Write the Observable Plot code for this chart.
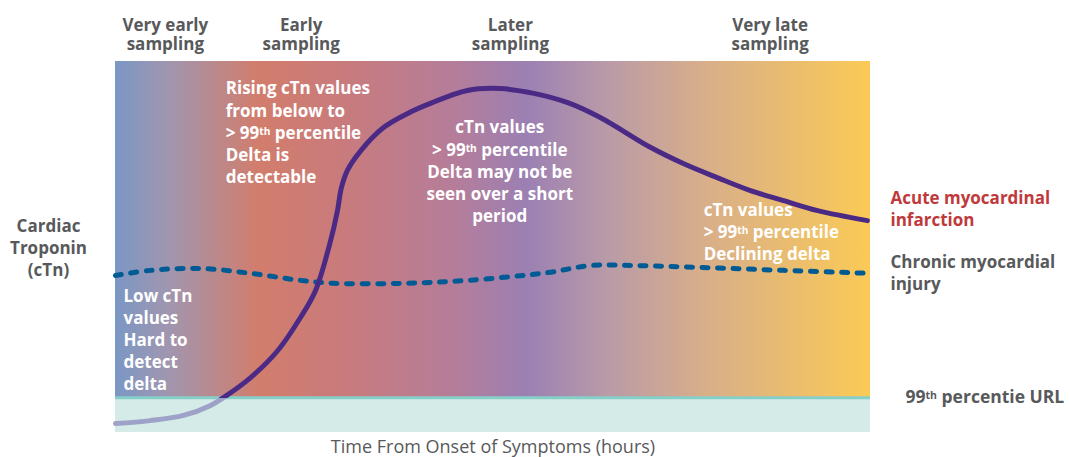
<!DOCTYPE html>
<html>
<head>
<meta charset="utf-8">
<script src="https://cdn.jsdelivr.net/npm/d3@7"></script>
<script src="https://cdn.jsdelivr.net/npm/@observablehq/plot@0.6"></script>
<style>
  body { margin: 0; background: #fff; }
  #chart svg { display: block; }
</style>
</head>
<body>
<div id="chart"></div>
<script>
// 99th percentile upper reference limit, in the same arbitrary cTn units as the curves
const URL_LEVEL = 9.4;

// sampling phases shown across the top
const phaseHours = [6.6, 24.6, 52.3, 86.7];
const phaseLabels = ["Very early\nsampling", "Early\nsampling", "Later\nsampling", "Very late\nsampling"];

// acute myocardial infarction curve
const amiHours = [0, 4.6, 9.0, 12.6, 14.3, 17.9, 21.5, 24.5, 26.5, 28.5, 29.4, 29.9, 30.7, 32.5, 35.5, 38.7, 41.7, 46.6, 51.0, 55.4, 59.9, 64.2, 70.9, 75.2, 79.7, 84.1, 88.5, 93.0, 99.6];
const amiCtn = [2.4, 3.2, 4.6, 7.3, 9.4, 14.8, 22.1, 31.0, 38.3, 51.8, 59.8, 65.8, 70.6, 76.0, 82.2, 86.0, 88.7, 92.2, 92.7, 91.4, 88.9, 84.9, 76.8, 72.5, 68.7, 65.2, 62.5, 59.8, 57.1];

// chronic myocardial injury curve
const chronicHours = [0, 4.6, 11.3, 17.9, 24.5, 28.9, 37.7, 46.6, 57.2, 62.9, 68.6, 77.5, 88.5, 100];
const chronicCtn = [42.3, 43.7, 44.2, 42.9, 41.0, 40.2, 40.2, 41.0, 43.1, 45.0, 45.0, 44.5, 43.7, 42.9];

const noteVeryEarly = "Low cTn\nvalues\nHard to\ndetect\ndelta";
const noteEarly = "Rising cTn values\nfrom below to\n> 99th percentile\nDelta is\ndetectable";
const noteLater = "cTn values\n> 99th percentile\nDelta may not be\nseen over a short\nperiod";
const noteVeryLate = "cTn values\n> 99th percentile\nDeclining delta";

const ami = amiHours.map((h, i) => ({ hours: h, ctn: amiCtn[i] }));
const chronic = chronicHours.map((h, i) => ({ hours: h, ctn: chronicCtn[i] }));

const FONT = "'Open Sans', sans-serif";
const GREY = "#58595b";

const noteStyle = { fill: "white", fontSize: 17, fontWeight: "bold", lineHeight: 1.3, fontFamily: FONT };
const sideStyle = { fontSize: 17, fontWeight: "bold", lineHeight: 1.3 };

const plot = Plot.plot({
  width: 1070,
  height: 457,
  marginLeft: 115,
  marginRight: 200,
  marginTop: 61,
  marginBottom: 25,
  style: { fontFamily: FONT, background: "white" },
  x: { domain: [0, 100], label: null },
  y: { domain: [0, 100], axis: null },
  marks: [
    // phase background and the band under the URL
    Plot.rect([0], { x1: 0, x2: 100, y1: URL_LEVEL, y2: 100, fill: "url(#phaseGradient)" }),
    Plot.rect([0], { x1: 0, x2: 100, y1: 0, y2: URL_LEVEL, fill: "#d4ebe7" }),
    Plot.ruleY([URL_LEVEL], { stroke: "#86cfc9", strokeWidth: 3 }),

    Plot.text([noteVeryEarly], { x: 1.06, y: 25.3, textAnchor: "start", ...noteStyle }),
    Plot.text([noteEarly], { x: 14.6, y: 81.1, textAnchor: "start", ...noteStyle }),
    Plot.text([noteLater], { x: 50.9, y: 70.6, textAnchor: "middle", ...noteStyle }),
    Plot.text([noteVeryLate], { x: 77.9, y: 54.4, textAnchor: "start", ...noteStyle }),

    Plot.line(chronic, {
      x: "hours", y: "ctn", curve: "catmull-rom",
      stroke: "#005b94", strokeWidth: 5, strokeDasharray: "6,9.5"
    }),
    Plot.line(ami, {
      x: "hours", y: "ctn", curve: "catmull-rom",
      stroke: "url(#amiStroke)", strokeWidth: 5
    }),

    Plot.axisX(phaseHours, {
      anchor: "top", tickSize: 0, tickPadding: 12, label: null,
      tickFormat: (d) => phaseLabels[phaseHours.indexOf(d)],
      fontSize: 17, fontWeight: "bold", fill: GREY, lineHeight: 1.1
    }),
    Plot.text(["Time From Onset of Symptoms (hours)"], {
      frameAnchor: "bottom", dy: 20, fontSize: 18, fill: GREY
    }),
    Plot.text(["Cardiac\nTroponin\n(cTn)"], {
      frameAnchor: "left", y: 50, dx: -67, textAnchor: "middle", fill: GREY, ...sideStyle
    }),
    Plot.text(["Acute myocardinal\ninfarction"], {
      x: 100, y: 60.6, dx: 20, textAnchor: "start", fill: "#c0393b", ...sideStyle
    }),
    Plot.text(["Chronic myocardial\ninjury"], {
      x: 100, y: 43.4, dx: 20, textAnchor: "start", fill: GREY, ...sideStyle
    }),
    Plot.text(["99th percentie URL"], {
      x: 100, y: URL_LEVEL, dx: 35, textAnchor: "start",
      fontSize: 17.5, fontWeight: "bold", fill: GREY
    })
  ]
});

// gradients: the phase colours, and the AMI stroke that goes pale below the URL
const urlPx = plot.scale("y").apply(URL_LEVEL);
const defs = d3.select(plot).insert("defs", ":first-child");
const bg = defs.append("linearGradient").attr("id", "phaseGradient");
[
  [0, "#7b97c4"], [0.07, "#a096b0"], [0.19, "#d27d6c"], [0.30, "#c97b7c"],
  [0.45, "#b57d9a"], [0.545, "#9b80b3"], [0.65, "#b99aa8"], [0.78, "#d8ae8a"], [1, "#fbca56"]
].forEach(([o, c]) => bg.append("stop").attr("offset", o).attr("stop-color", c));

const amiStroke = defs.append("linearGradient").attr("id", "amiStroke")
  .attr("gradientUnits", "userSpaceOnUse")
  .attr("x1", 0).attr("x2", 0).attr("y1", 0).attr("y2", 457);
const cut = urlPx / 457;
amiStroke.append("stop").attr("offset", 0).attr("stop-color", "#4b2a86");
amiStroke.append("stop").attr("offset", cut).attr("stop-color", "#4b2a86");
amiStroke.append("stop").attr("offset", cut).attr("stop-color", "#9ea2c8");
amiStroke.append("stop").attr("offset", 1).attr("stop-color", "#9ea2c8");

// raise the "th" in 99th
d3.select(plot).selectAll("text, tspan").each(function () {
  if (this.children.length) return;
  const t = this.textContent;
  if (t.includes("99th")) {
    this.innerHTML = t.replace("99th", "99<tspan baseline-shift='40%' font-size='0.6em'>th</tspan>");
  }
});

document.getElementById("chart").append(plot);
</script>
</body>
</html>
